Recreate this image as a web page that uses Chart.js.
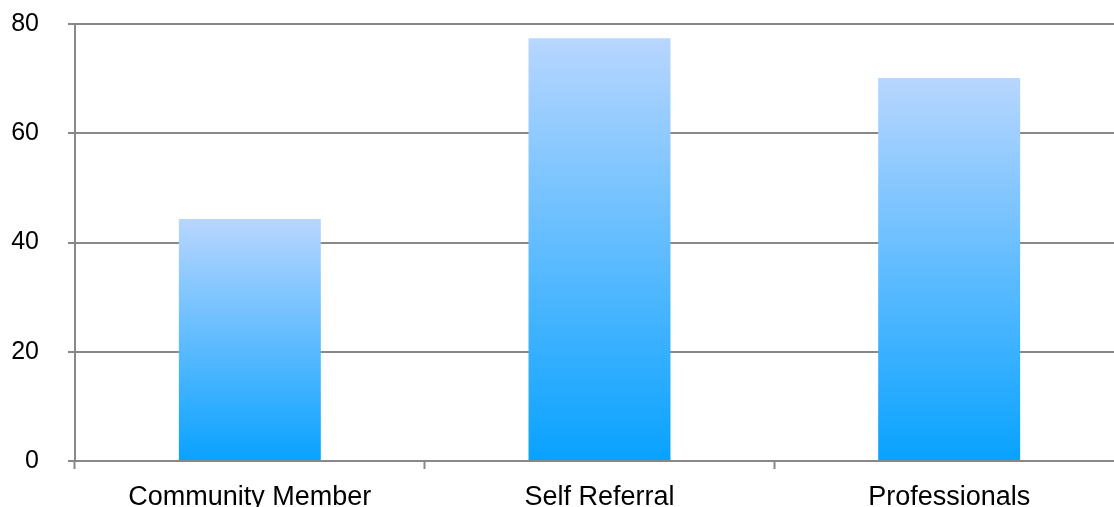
<!DOCTYPE html>
<html>
<head>
<meta charset="utf-8">
<script src="https://cdn.jsdelivr.net/npm/chart.js@4.4.1/dist/chart.umd.min.js"></script>
<style>
  html, body { margin: 0; padding: 0; background: #fff; overflow: hidden; }
  #wrap { width: 1124px; height: 507px; position: relative; }
</style>
</head>
<body>
<div id="wrap"><canvas id="referralChart"></canvas></div>
<script>
const categories = ['Community Member', 'Self Referral', 'Professionals'];
const referrals = [44.3, 77.4, 70.1];
const yTicks = [0, 20, 40, 60, 80];

const gridGrey = '#888888';

// vertical fade per bar: pale blue at the top down to bright blue at the base
function barFill(context) {
    const chart = context.chart;
    const y = chart.scales.y;
    if (!chart.chartArea || !y || context.raw === undefined) return '#5ab8ff';
    const top = y.getPixelForValue(context.raw);
    const bottom = y.getPixelForValue(0);
    const g = chart.ctx.createLinearGradient(0, top, 0, bottom);
    g.addColorStop(0, 'rgb(184, 214, 255)');
    g.addColorStop(1, 'rgb(8, 162, 255)');
    return g;
}

document.addEventListener('DOMContentLoaded', () => {
    const ctx = document.getElementById('referralChart').getContext('2d');
    new Chart(ctx, {
        type: 'bar',
        data: {
            labels: categories,
            datasets: [{
                data: referrals,
                backgroundColor: barFill,
                borderWidth: 0,
                barPercentage: 0.406,
                categoryPercentage: 1
            }]
        },
        options: {
            responsive: true,
            maintainAspectRatio: false,
            animation: false,
            layout: { padding: { top: 24, right: 0, left: 0, bottom: 0 } },
            scales: {
                x: {
                    afterFit: (scale) => {
                        scale.height = 46;
                        scale.paddingLeft = 0;
                        scale.paddingRight = 0;
                    },
                    grid: {
                        drawOnChartArea: false,
                        drawTicks: true,
                        tickLength: 8,
                        tickWidth: 2,
                        tickColor: gridGrey,
                        offset: true
                    },
                    border: { display: true, color: gridGrey, width: 2 },
                    ticks: {
                        color: '#000',
                        padding: 12,
                        font: { family: 'Liberation Sans, Arial, sans-serif', size: 27 }
                    }
                },
                y: {
                    min: 0,
                    max: 80,
                    afterFit: (scale) => {
                        scale.width = 75;
                        scale.paddingTop = 0;
                        scale.paddingBottom = 0;
                    },
                    afterBuildTicks: (scale) => { scale.ticks = yTicks.map(v => ({ value: v })); },
                    grid: {
                        color: gridGrey,
                        lineWidth: 2,
                        drawTicks: true,
                        tickLength: 7,
                        tickColor: gridGrey
                    },
                    border: { display: true, color: gridGrey, width: 2 },
                    ticks: {
                        color: '#000',
                        padding: 29,
                        font: { family: 'Liberation Sans, Arial, sans-serif', size: 25 }
                    }
                }
            },
            plugins: {
                legend: { display: false },
                tooltip: { enabled: false }
            }
        }
    });
});
</script>
</body>
</html>
